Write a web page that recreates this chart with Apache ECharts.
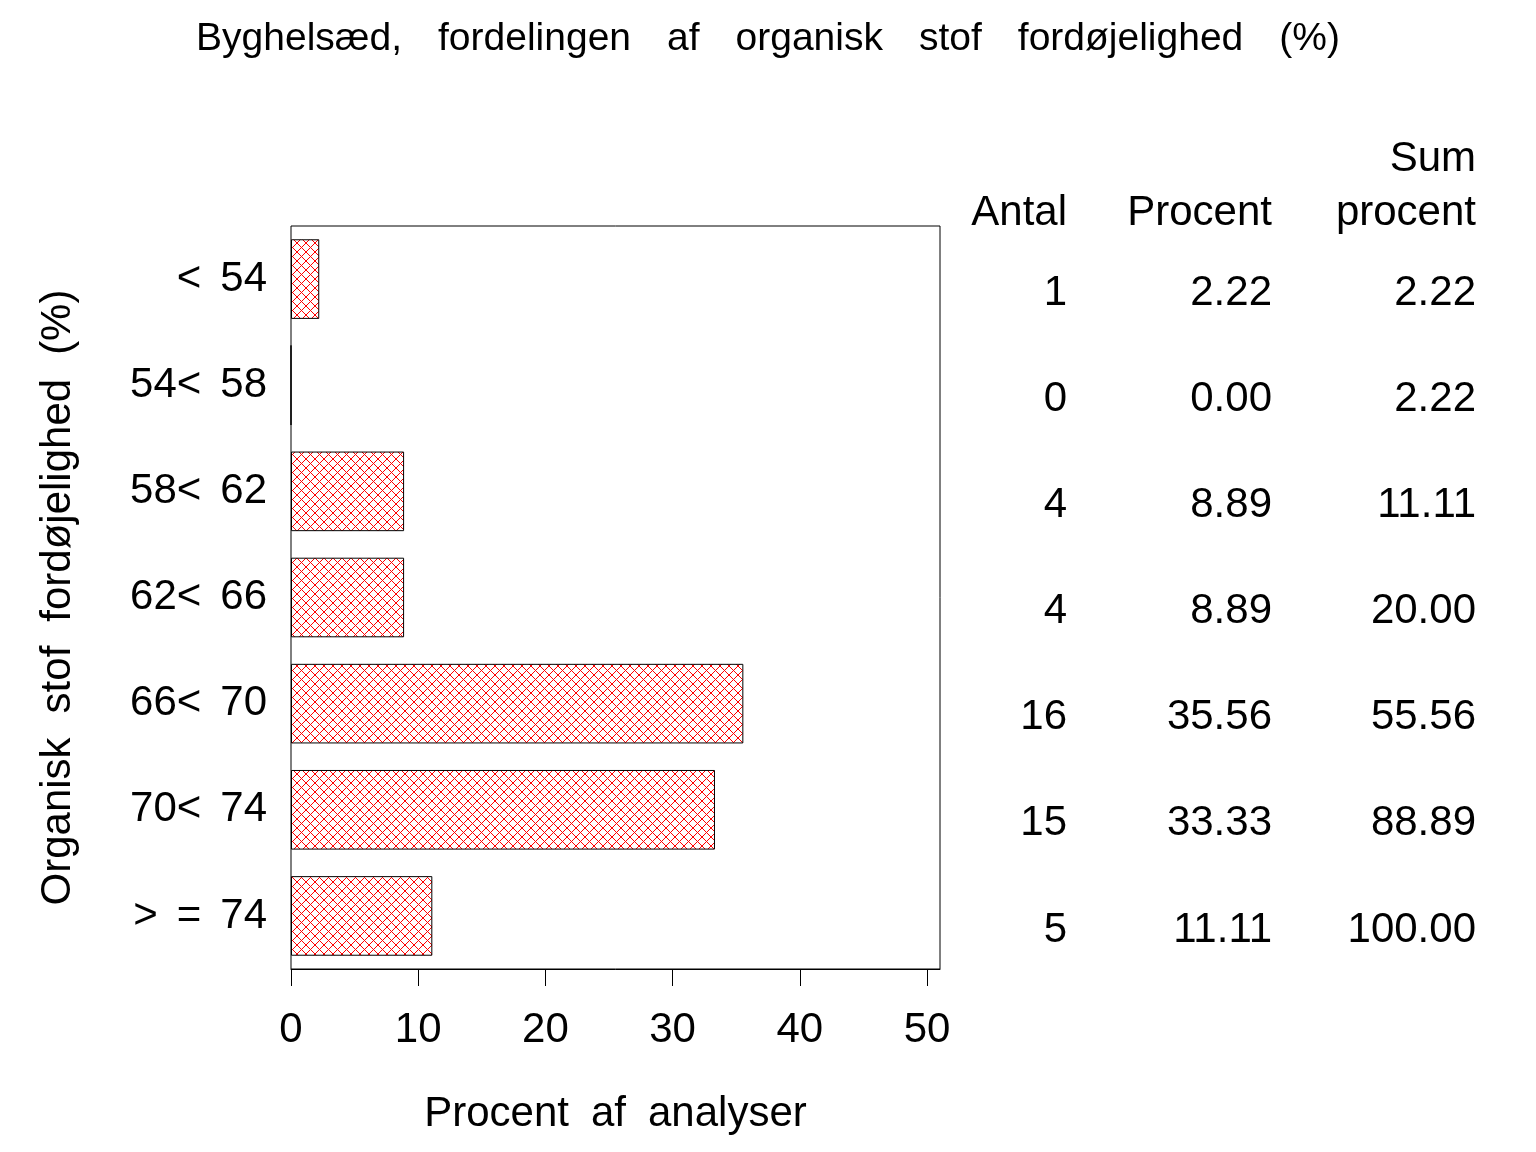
<!DOCTYPE html>
<html>
<head>
<meta charset="utf-8">
<script src="https://cdn.jsdelivr.net/npm/echarts@6/dist/echarts.min.js"></script>
<style>
  html, body { margin: 0; padding: 0; background: #fff; }
  #chart { width: 1536px; height: 1152px; }
</style>
</head>
<body>
<div id="chart"></div>
<script>
// ---- data ----
const titleText = 'Byghelsæd, fordelingen af organisk stof fordøjelighed (%)';
const categories = ['< 54', '54< 58', '58< 62', '62< 66', '66< 70', '70< 74', '> = 74'];
const percentValues = [2.22, 0.00, 8.89, 8.89, 35.56, 33.33, 11.11];
const antal = [1, 0, 4, 4, 16, 15, 5];
const sumPercent = [2.22, 2.22, 11.11, 20.00, 55.56, 88.89, 100.00];
const xTicks = [0, 10, 20, 30, 40, 50];
const tableHeaders = ['Antal', 'Procent', 'Sum', 'procent'];

const FONT = "'Liberation Sans', Arial, Helvetica, sans-serif";

// render spaces as wider gaps (the reference uses wide word spacing)
function spaced(text) {
  return text.split(' ').map(w => '{w|' + w + '}').join('{s| }');
}
function richStyle(size, gap) {
  return {
    w: { fontSize: size, fontFamily: FONT, color: '#000' },
    s: { fontSize: size, fontFamily: FONT, color: '#000', width: gap }
  };
}

// cross-hatch pattern (red diagonal lines)
function makeHatch() {
  const n = 9;
  const c = document.createElement('canvas');
  c.width = n; c.height = n;
  const ctx = c.getContext('2d');
  ctx.fillStyle = '#ffffff';
  ctx.fillRect(0, 0, n, n);
  ctx.fillStyle = '#ff0000';
  for (let i = 0; i < n; i++) {
    ctx.fillRect(i, i, 1, 1);
    ctx.fillRect(n - 1 - i, i, 1, 1);
  }
  return c;
}

const chart = echarts.init(document.getElementById('chart'), null, { renderer: 'canvas' });

const labelStyle = { color: '#000', fontSize: 42, fontFamily: FONT };

function tableAxis(values, margin) {
  return {
    type: 'category',
    gridIndex: 1,
    position: 'right',
    inverse: true,
    data: categories,
    axisLine: { show: false },
    axisTick: { show: false },
    splitLine: { show: false },
    axisLabel: Object.assign({}, labelStyle, {
      align: 'right',
      margin: margin,
      formatter: function (v, i) { return values[i]; }
    })
  };
}

const option = {
  backgroundColor: '#ffffff',
  animation: false,
  grid: [
    { left: 291, top: 226, right: 596, bottom: 183,
      show: true, borderColor: '#000', borderWidth: 1, backgroundColor: 'transparent' },
    { left: 291, top: 240, right: 596, bottom: 169, show: false }
  ],
  xAxis: [
    {
      type: 'value',
      gridIndex: 0,
      min: 0,
      max: 51.02,
      name: spaced('Procent af analyser'),
      nameLocation: 'middle',
      nameGap: 124,
      nameTextStyle: Object.assign({}, labelStyle, { rich: richStyle(42, 22) }),
      axisLine: { show: true, lineStyle: { color: '#000', width: 1 } },
      axisTick: { show: true, length: 17, customValues: xTicks, lineStyle: { color: '#000' } },
      axisLabel: Object.assign({}, labelStyle, { margin: 40, customValues: xTicks }),
      splitLine: { show: false }
    },
    { type: 'value', gridIndex: 1, show: false, min: 0, max: 1 }
  ],
  yAxis: [
    {
      type: 'category',
      gridIndex: 0,
      inverse: true,
      data: categories,
      name: spaced('Organisk stof fordøjelighed (%)'),
      nameLocation: 'middle',
      nameGap: 212,
      nameTextStyle: Object.assign({}, labelStyle, { rich: richStyle(42, 24) }),
      axisLine: { show: false },
      axisTick: { show: false },
      axisLabel: Object.assign({}, labelStyle, {
        margin: 24,
        formatter: function (v) { return spaced(v); },
        rich: richStyle(42, 19)
      })
    },
    tableAxis(antal.map(String), 127),
    tableAxis(percentValues.map(v => v.toFixed(2)), 332),
    tableAxis(sumPercent.map(v => v.toFixed(2)), 536)
  ],
  graphic: [
    {
      type: 'text', left: 'center', top: 20,
      style: {
        text: spaced(titleText),
        fill: '#000',
        font: '39px ' + FONT,
        rich: {
          w: { font: '39px ' + FONT, fill: '#000' },
          s: { font: '39px ' + FONT, fill: '#000', width: 36 }
        }
      }
    },
    { type: 'text', right: 1536 - 1067, top: 192, style: { text: tableHeaders[0], fill: '#000', font: '42px ' + FONT } },
    { type: 'text', right: 1536 - 1272, top: 192, style: { text: tableHeaders[1], fill: '#000', font: '42px ' + FONT } },
    { type: 'text', right: 1536 - 1476, top: 138, style: { text: tableHeaders[2], fill: '#000', font: '42px ' + FONT } },
    { type: 'text', right: 1536 - 1476, top: 192, style: { text: tableHeaders[3], fill: '#000', font: '42px ' + FONT } }
  ],
  series: [
    {
      type: 'bar',
      xAxisIndex: 0,
      yAxisIndex: 0,
      data: percentValues,
      barCategoryGap: '25%',
      itemStyle: {
        color: { image: makeHatch(), repeat: 'repeat' },
        borderColor: '#000',
        borderWidth: 1
      }
    }
  ]
};

chart.setOption(option);
</script>
</body>
</html>
